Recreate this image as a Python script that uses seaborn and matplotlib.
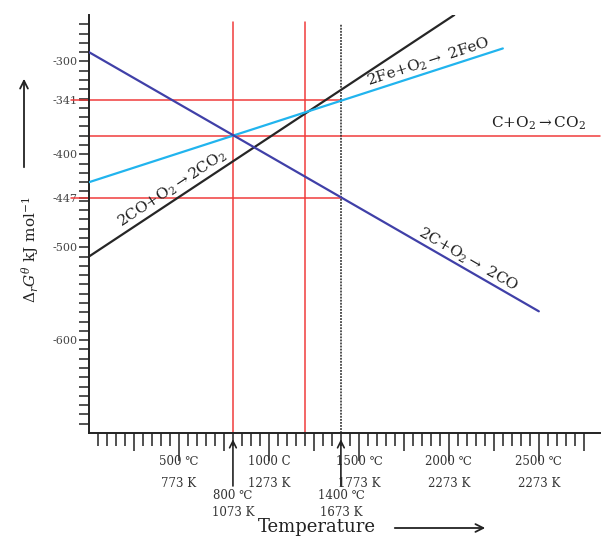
"""
Ellingham-type diagram: free energy of oxide formation against temperature
"""

import numpy as np
import pandas as pd
import matplotlib
matplotlib.use('Agg')
import matplotlib.pyplot as plt
import seaborn as sns

# --- data (temperature in C, Delta G in kJ/mol) ---
reactions = ['2CO+O2->2CO2', '2Fe+O2->2FeO', '2C+O2->2CO']
temp_co_co2 = [0, 2030]
g_co_co2 = [-510, -250]
temp_fe_feo = [0, 2300]
g_fe_feo = [-430, -286]
temp_c_co = [0, 2500]
g_c_co = [-290, -569]
g_c_co2 = -380

line_colors = {'2CO+O2->2CO2': '#262626', '2Fe+O2->2FeO': '#21b4ee', '2C+O2->2CO': '#4040a8'}

# reference lines
ref_temps = [800, 1200]
ref_dotted_temp = 1400
ref_levels = [-341, -447]

# axis ticks
y_ticks = [-300, -341, -400, -447, -500, -600]
x_ticks = [500, 1000, 1500, 2000, 2500]
x_tick_labels = ['500 \u2103\n773 K', '1000 C\n1273 K', '1500 \u2103\n1773 K',
                 '2000 \u2103\n2273 K', '2500 \u2103\n2273 K']
marked_temps = [800, 1400]
marked_labels = ['800 \u2103\n1073 K', '1400 \u2103\n1673 K']

df = pd.concat([
    pd.DataFrame({'T': temp_co_co2, 'G': g_co_co2, 'reaction': reactions[0]}),
    pd.DataFrame({'T': temp_fe_feo, 'G': g_fe_feo, 'reaction': reactions[1]}),
    pd.DataFrame({'T': temp_c_co, 'G': g_c_co, 'reaction': reactions[2]}),
])

sns.set_style('ticks')
plt.rcParams['font.family'] = ['DejaVu Serif', 'DejaVu Sans']
plt.rcParams['mathtext.fontset'] = 'dejavuserif'

W, H = 601, 537
fig = plt.figure(figsize=(W / 100, H / 100), dpi=100)
ax = fig.add_axes([89 / W, 1 - 433 / H, (600 - 89) / W, (433 - 15) / H])

red = '#f03c3c'
sns.lineplot(data=df, x='T', y='G', hue='reaction', palette=line_colors,
             linewidth=1.6, legend=False, ax=ax, zorder=3)

ax.set_xlim(0, 2840)
ax.set_ylim(-700, -250)

# red guide lines
ax.plot([0, 2840], [g_c_co2, g_c_co2], color=red, lw=1.1, zorder=2, clip_on=False)
for lvl in ref_levels:
    ax.plot([-100, ref_dotted_temp], [lvl, lvl], color=red, lw=1.1, zorder=2, clip_on=False)
for t in ref_temps:
    ax.plot([t, t], [-700, -257], color=red, lw=1.1, zorder=2)
ax.plot([ref_dotted_temp] * 2, [-700, -260], color='#222222', lw=1.1,
        linestyle=(0, (1.2, 0.8)), zorder=2)

# axes styling
sns.despine(ax=ax)
for s in ['left', 'bottom']:
    ax.spines[s].set_linewidth(1.4)
    ax.spines[s].set_color('#222222')

ax.set_yticks(y_ticks)
ax.set_yticklabels([str(v) for v in y_ticks], fontsize=8, color='#444444')
ax.set_yticks(np.arange(-690, -250, 10), minor=True)
ax.tick_params(axis='y', which='both', length=7, width=1.1, color='#222222', pad=1)

ax.set_xticks(x_ticks)
ax.set_xticklabels(x_tick_labels, fontsize=8.5, color='#333333', linespacing=1.9)
ax.set_xticks(np.arange(50, 2800, 50), minor=True)
ax.tick_params(axis='x', which='major', length=20, width=1.1, color='#222222', pad=-4)
ax.tick_params(axis='x', which='minor', length=9, width=1.1, color='#222222')
ax.set_xlabel('')
ax.set_ylabel('')

# marked temperatures below the axis
for t, lab in zip(marked_temps, marked_labels):
    ax.annotate(lab, xy=(t, -0.015), xycoords=('data', 'axes fraction'),
                xytext=(0, -36), textcoords='offset points', ha='center', va='top',
                fontsize=8.5, color='#333333', linespacing=1.4,
                arrowprops=dict(arrowstyle='->', color='#222222', lw=1.2,
                                shrinkA=0, shrinkB=0, mutation_scale=12))


def line_angle(tx, gy):
    p = ax.transData.transform(np.column_stack([tx, gy]))
    return np.degrees(np.arctan2(p[1, 1] - p[0, 1], p[1, 0] - p[0, 0]))


def on_line(tx, gy, t):
    return np.interp(t, tx, gy)


label_kw = dict(fontsize=11, color='#222222', rotation_mode='anchor', ha='center', va='bottom')
ax.text(490, on_line(temp_co_co2, g_co_co2, 490) + 2,
        r'2CO+O$_2$$\rightarrow$2CO$_2$', rotation=line_angle(temp_co_co2, g_co_co2), **label_kw)
ax.text(1900, on_line(temp_fe_feo, g_fe_feo, 1900) + 2,
        r'2Fe+O$_2$$\rightarrow$ 2FeO', rotation=line_angle(temp_fe_feo, g_fe_feo), **label_kw)
ax.text(2080, on_line(temp_c_co, g_c_co, 2080) + 1,
        r'2C+O$_2$$\rightarrow$ 2CO', rotation=line_angle(temp_c_co, g_c_co), **label_kw)
ax.text(2500, g_c_co2 + 4, r'C+O$_2$$\rightarrow$CO$_2$', fontsize=11, color='#222222',
        ha='center', va='bottom')

# axis titles with arrows
fig.text(31 / W, 1 - 250 / H, r'$\Delta_r G^{\theta}$ kJ mol$^{-1}$', rotation=90,
         ha='center', va='center', fontsize=11, color='#222222')
fig.add_artist(matplotlib.patches.FancyArrowPatch(
    (24 / W, 1 - 170 / H), (24 / W, 1 - 76 / H), transform=fig.transFigure,
    arrowstyle='->', mutation_scale=14, lw=1.3, color='#222222'))
fig.text(317 / W, 1 - 527 / H, 'Temperature', ha='center', va='center',
         fontsize=13, color='#222222')
fig.add_artist(matplotlib.patches.FancyArrowPatch(
    (392 / W, 1 - 528 / H), (488 / W, 1 - 528 / H), transform=fig.transFigure,
    arrowstyle='->', mutation_scale=14, lw=1.3, color='#222222'))

# longer minor ticks half way between the labelled temperatures
fig.canvas.draw()
for tick in ax.xaxis.get_minor_ticks():
    if abs(tick.get_loc() % 500 - 250) < 1:
        tick.tick1line.set_markersize(13)

fig.savefig('out.png', dpi=100)
